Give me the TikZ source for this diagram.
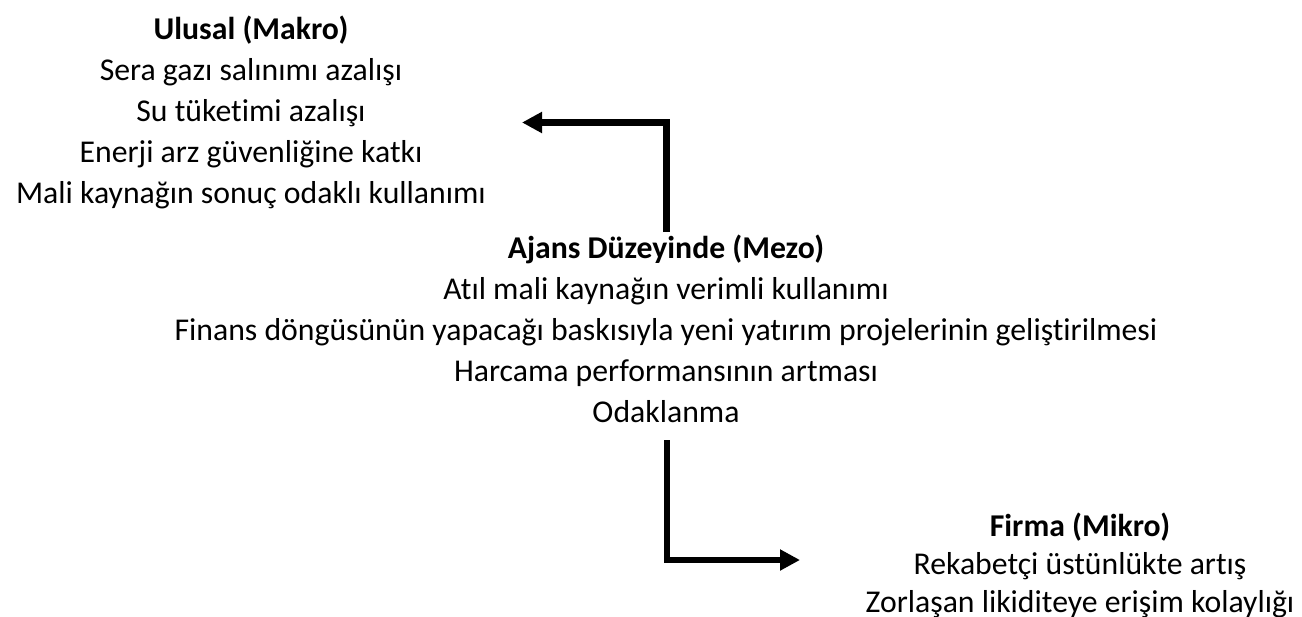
\documentclass[tikz,border=0pt]{standalone}
\usepackage{fontspec}
\setmainfont[Ligatures=NoCommon]{Carlito}
\usetikzlibrary{arrows.meta}

\begin{document}
\begin{tikzpicture}[x=0.75pt,y=-0.75pt]
\useasboundingbox (0,0) rectangle (1302,617);
\begin{scope}[every node/.style={align=center,inner sep=0pt,font=\fontsize{23.8}{30.75}\selectfont}]
	\node[anchor=north] (ulusal) at (251,16) {\textbf{Ulusal (Makro)}\\Sera gazı salınımı azalışı\\Su tüketimi azalışı\\Enerji arz güvenliğine katkı\\Mali kaynağın sonuç odaklı kullanımı};
	\node[anchor=north] (ajans) at (666,235) {\textbf{Ajans Düzeyinde (Mezo)}\\Atıl mali kaynağın verimli kullanımı\\Finans döngüsünün yapacağı baskısıyla yeni yatırım projelerinin geliştirilmesi\\Harcama performansının artması\\Odaklanma};
	\node[anchor=north,font=\fontsize{23.8}{28.2}\selectfont] (firma) at (1080,513) {\textbf{Firma (Mikro)}\\Rekabetçi üstünlükte artış\\Zorlaşan likiditeye erişim kolaylığı};
\end{scope}
\coordinate (upstart) at (666.5,232);
\coordinate (upend) at (522,122.5);
\coordinate (downstart) at (667,440);
\coordinate (downend) at (800,560);
\begin{scope}[>={Triangle[length=15pt,width=15pt]}, every path/.style={draw=black,line width=4.8pt,line join=miter}]
	\draw[->] (upstart) |- (upend);
	\draw[->] (downstart) |- (downend);
\end{scope}
\end{tikzpicture}
\end{document}
